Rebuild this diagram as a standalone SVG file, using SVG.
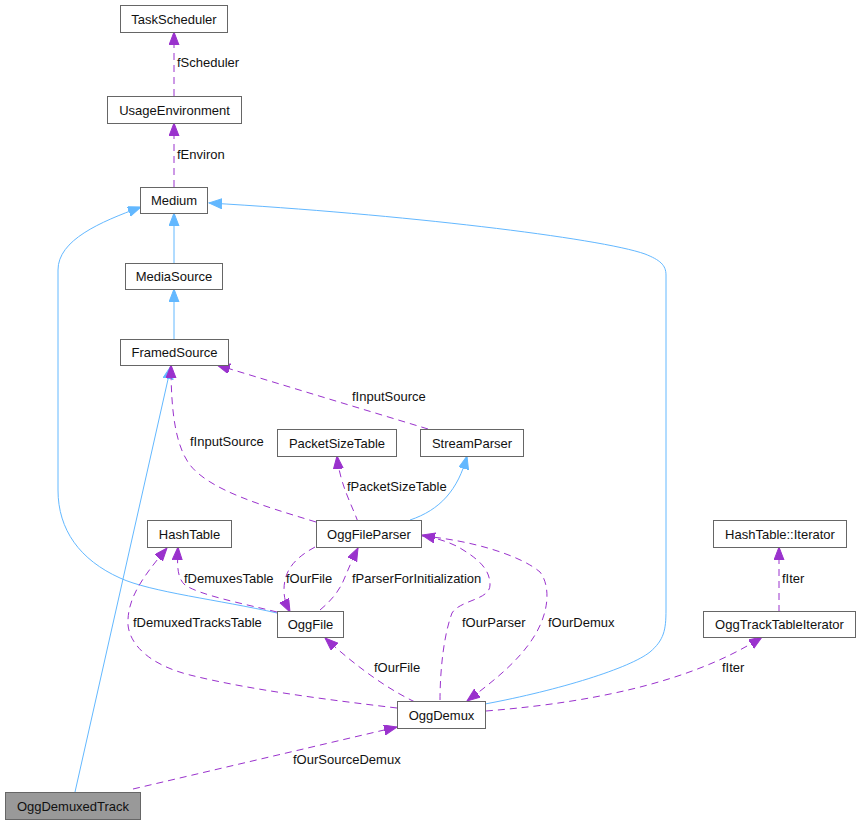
<svg xmlns="http://www.w3.org/2000/svg" width="861" height="824" viewBox="0 0 861 824">
<style>
text{font-family:"Liberation Sans",Arial,sans-serif;font-size:13px;fill:#111}
.n rect{fill:#fff;stroke:#666;stroke-width:1}
.n text{text-anchor:middle}
.b{fill:none;stroke:#63b8ff;stroke-width:1;marker-end:url(#ab)}
.p{fill:none;stroke:#9a32cd;stroke-width:1;stroke-dasharray:7,5;marker-end:url(#ap)}
</style>
<defs>
<marker id="ab" markerUnits="userSpaceOnUse" markerWidth="14" markerHeight="12" refX="13" refY="5" orient="auto"><path d="M0,0 L13,5 L0,10 z" fill="#63b8ff" stroke="#63b8ff"/></marker>
<marker id="ap" markerUnits="userSpaceOnUse" markerWidth="14" markerHeight="12" refX="13" refY="5" orient="auto"><path d="M0,0 L13,5 L0,10 z" fill="#9a32cd" stroke="#9a32cd"/></marker>
</defs>
<rect width="861" height="824" fill="#fff"/>
<g id="edges">
<path class="b" d="M174,263 L174,213"/>
<path class="b" d="M174,339 L174,289"/>
<path class="b" d="M277,613 C220,600 150,592 120,578 C80,560 58,530 58,490 L58,270 C58,240 100,222 141,207"/>
<path class="b" d="M485,704 C560,690 630,668 650,652 C664,640 666,630 666,610 L666,275 C666,265 660,260 645,254 C600,238 400,214 209,203"/>
<path class="b" d="M75,792 L171,366"/>
<path class="b" d="M410,520 C440,510 458,490 467,456"/>
<path class="p" d="M174,96 L174,32"/>
<path class="p" d="M174,187 L174,123"/>
<path class="p" d="M428,429 L217,365"/>
<path class="p" d="M316,522 C260,505 210,490 190,465 C175,445 171,410 171,365"/>
<path class="p" d="M358,522 C352,505 340,485 337,456"/>
<path class="p" d="M277,612 C240,603 200,595 185,585 C177,578 177,565 178,547"/>
<path class="p" d="M397,708 C330,700 250,690 190,675 C150,665 130,645 128,625 C127,600 140,580 167,548"/>
<path class="p" d="M315,547 C295,558 284,570 284,590 C284,600 287,606 290,612"/>
<path class="p" d="M320,610 C332,600 340,590 345,577 C350,565 354,556 358,548"/>
<path class="p" d="M415,702 C390,690 360,670 325,638"/>
<path class="p" d="M440,700 C440,680 442,640 452,613 C460,600 490,600 490,585 C490,570 480,560 460,548 C450,542 435,538 422,535"/>
<path class="p" d="M422,536 C470,540 520,555 540,572 C550,585 550,610 535,635 C520,660 495,680 467,701"/>
<path class="p" d="M486,711 C560,705 680,690 762,637"/>
<path class="p" d="M779,612 L779,547"/>
<path class="p" d="M133,789 L397,727"/>
<text x="177" y="67">fScheduler</text>
<text x="177" y="159">fEnviron</text>
<text x="352" y="401">fInputSource</text>
<text x="190" y="446">fInputSource</text>
<text x="347" y="491">fPacketSizeTable</text>
<text x="184" y="583">fDemuxesTable</text>
<text x="286" y="583">fOurFile</text>
<text x="352" y="583">fParserForInitialization</text>
<text x="133" y="627">fDemuxedTracksTable</text>
<text x="462" y="627">fOurParser</text>
<text x="548" y="627">fOurDemux</text>
<text x="374" y="672">fOurFile</text>
<text x="722" y="672">fIter</text>
<text x="782" y="583">fIter</text>
<text x="293" y="764">fOurSourceDemux</text>
</g>
<g id="TaskScheduler" class="n"><rect x="120.5" y="5.5" width="107" height="27"/><text x="174" y="23.5">TaskScheduler</text></g>
<g id="UsageEnvironment" class="n"><rect x="107.5" y="96.5" width="134" height="27"/><text x="174.5" y="114.5">UsageEnvironment</text></g>
<g id="Medium" class="n"><rect x="140.5" y="187.5" width="67" height="26"/><text x="174" y="205">Medium</text></g>
<g id="MediaSource" class="n"><rect x="125.5" y="263.5" width="97" height="26"/><text x="174" y="281">MediaSource</text></g>
<g id="FramedSource" class="n"><rect x="120.5" y="339.5" width="108" height="26"/><text x="174.5" y="357">FramedSource</text></g>
<g id="PacketSizeTable" class="n"><rect x="277.5" y="429.5" width="119" height="27"/><text x="337" y="447.5">PacketSizeTable</text></g>
<g id="StreamParser" class="n"><rect x="420.5" y="429.5" width="103" height="27"/><text x="472" y="447.5">StreamParser</text></g>
<g id="HashTable" class="n"><rect x="147.5" y="520.5" width="84" height="27"/><text x="189.5" y="538.5">HashTable</text></g>
<g id="OggFileParser" class="n"><rect x="316.5" y="520.5" width="105" height="27"/><text x="369" y="538.5">OggFileParser</text></g>
<g id="HashTableIterator" class="n"><rect x="713.5" y="520.5" width="133" height="27"/><text x="780" y="538.5">HashTable::Iterator</text></g>
<g id="OggFile" class="n"><rect x="277.5" y="611.5" width="66" height="26"/><text x="310.5" y="629">OggFile</text></g>
<g id="OggTrackTableIterator" class="n"><rect x="703.5" y="611.5" width="152" height="26"/><text x="779.5" y="629">OggTrackTableIterator</text></g>
<g id="OggDemux" class="n"><rect x="397.5" y="701.5" width="88" height="27"/><text x="441.5" y="719.5">OggDemux</text></g>
<g id="OggDemuxedTrack" class="n"><rect x="5.5" y="792.5" width="135" height="27" style="fill:#999"/><text x="73" y="810.5">OggDemuxedTrack</text></g>
</svg>
